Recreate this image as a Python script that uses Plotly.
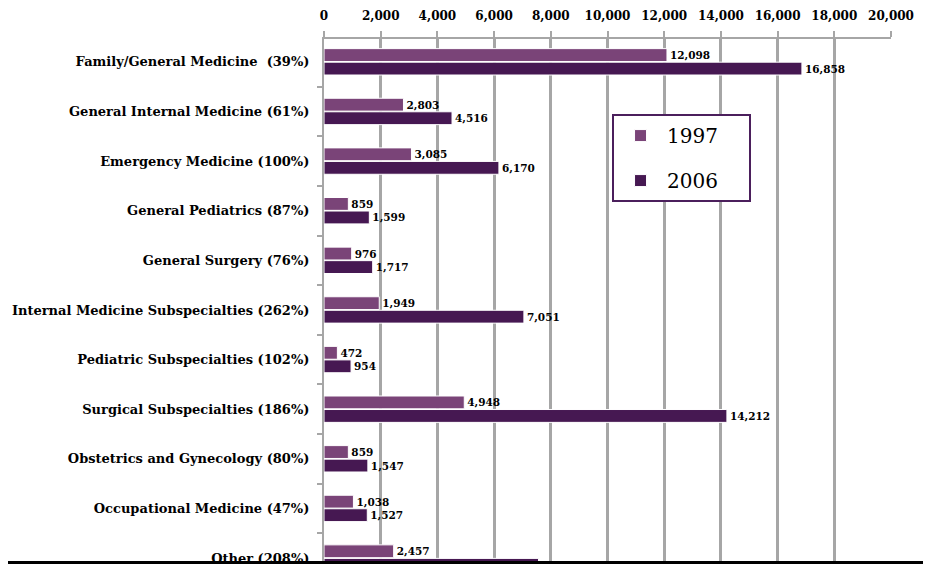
import plotly.graph_objects as go

categories = [
    "Family/General Medicine  (39%)",
    "General Internal Medicine (61%)",
    "Emergency Medicine (100%)",
    "General Pediatrics (87%)",
    "General Surgery (76%)",
    "Internal Medicine Subspecialties (262%)",
    "Pediatric Subspecialties (102%)",
    "Surgical Subspecialties (186%)",
    "Obstetrics and Gynecology (80%)",
    "Occupational Medicine (47%)",
    "Other (208%)",
]
values_1997 = [12098, 2803, 3085, 859, 976, 1949, 472, 4948, 859, 1038, 2457]
values_2006 = [16858, 4516, 6170, 1599, 1717, 7051, 954, 14212, 1547, 1527, 7567]
x_ticks = [0, 2000, 4000, 6000, 8000, 10000, 12000, 14000, 16000, 18000, 20000]
series_names = ["1997", "2006"]

SERIF = "DejaVu Serif"
label_font = dict(family=SERIF, size=10.5, color="black", weight="bold")
PAD = "\u00a0" * 4

fig = go.Figure()
fig.add_trace(go.Bar(
    y=categories, x=values_1997, name=series_names[0] + PAD, orientation="h",
    marker=dict(color="#7A4478", line=dict(color="white", width=1)),
    text=[f"{v:,}" for v in values_1997], textposition="outside",
    textfont=label_font, cliponaxis=False, legendgroup="a",
))
fig.add_trace(go.Bar(
    y=categories, x=values_2006, name=series_names[1] + PAD, orientation="h",
    marker=dict(color="#461852", line=dict(color="white", width=1)),
    text=[f"{v:,}" for v in values_2006], textposition="outside",
    textfont=label_font, cliponaxis=False, legendgroup="b",
))

# page body has an 8px default margin, so the figure is 8px smaller
fig.update_layout(
    width=923, height=556,
    margin=dict(l=316, r=40, t=31, b=0, autoexpand=False),
    paper_bgcolor="white", plot_bgcolor="white",
    barmode="group", bargap=0.455, bargroupgap=0.05,
    showlegend=True,
    legend=dict(
        x=0.508, y=0.857, xanchor="left", yanchor="top",
        bgcolor="white", bordercolor="#4B1F5C", borderwidth=2,
        font=dict(family=SERIF, size=20, color="black"),
        tracegroupgap=16, traceorder="grouped", itemwidth=43,
    ),
    xaxis=dict(
        side="top", range=[0, 20000], tickvals=x_ticks, tickformat=",",
        showgrid=True, gridcolor="#A6A6A6", gridwidth=2.5,
        showline=True, linecolor="#A6A6A6", linewidth=2,
        ticks="outside", ticklen=6, tickcolor="#A6A6A6", tickwidth=2,
        ticklabelstandoff=6,
        tickfont=dict(family=SERIF, size=12, color="black", weight="bold"),
        zeroline=False,
    ),
    yaxis=dict(
        range=[10.12, -0.46], showgrid=False,
        showline=True, linecolor="#A6A6A6", linewidth=2,
        ticks="outside", ticklen=5, tickcolor="#A6A6A6", tickwidth=2,
        tickson="boundaries", ticklabelstandoff=10,
        tickfont=dict(family=SERIF, size=13, color="black", weight="bold"),
    ),
    shapes=[dict(
        type="rect", xref="paper", yref="paper",
        x0=-0.6, x1=1.1, y0=-0.01, y1=0.0057,
        fillcolor="black", line=dict(width=0),
    )],
)

fig.write_html("out.html")
